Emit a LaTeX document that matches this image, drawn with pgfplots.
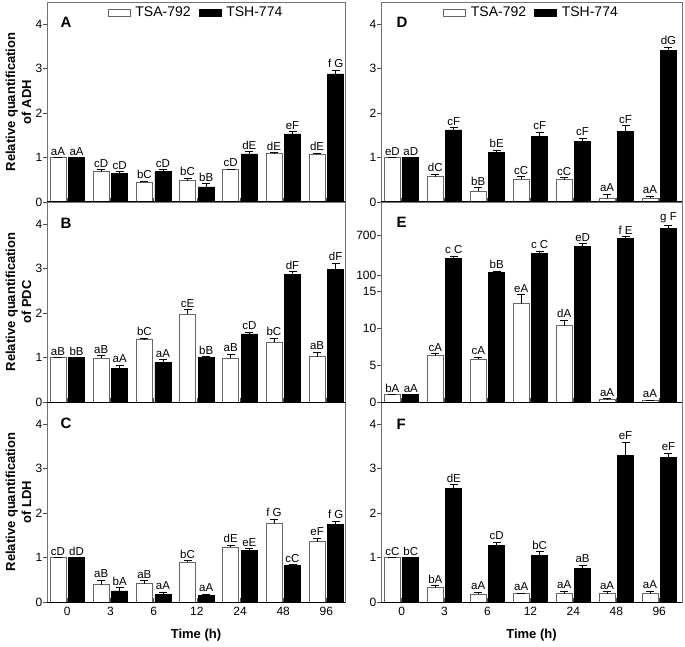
\documentclass[border=0pt]{standalone}
\usepackage{fontspec}
\setmainfont{Liberation Sans}
\usepackage{pgfplots}
\usepackage{pgfplotstable}
\pgfplotsset{compat=1.18}

% columns: group, TSA-792 mean/err/letters, TSH-774 mean/err/letters
\pgfplotstableread{
x wy we wl by be bl
0 1.00 0.00 aA 1.00 0.00 aA
1 0.68 0.05 cD 0.64 0.04 cD
2 0.45 0.02 bC 0.68 0.05 cD
3 0.48 0.06 bC 0.34 0.07 bB
4 0.73 0.01 cD 1.08 0.05 dE
5 1.09 0.02 dE 1.53 0.05 eF
6 1.08 0.02 dE 2.88 0.08 {f G}
}\tabA
\pgfplotstableread{
x wy we wl by be bl
0 1.00 0.00 aB 1.00 0.00 bB
1 0.99 0.05 aB 0.76 0.07 aA
2 1.40 0.03 bC 0.89 0.06 aA
3 1.98 0.10 cE 1.00 0.02 bB
4 0.99 0.08 aB 1.53 0.04 cD
5 1.34 0.10 bC 2.87 0.06 dF
6 1.02 0.10 aB 2.99 0.13 dF
}\tabB
\pgfplotstableread{
x wy we wl by be bl
0 1.00 0.00 cD 1.00 0.00 dD
1 0.39 0.10 aB 0.25 0.07 bA
2 0.41 0.07 aB 0.17 0.05 aA
3 0.89 0.04 bC 0.14 0.04 aA
4 1.23 0.05 dE 1.16 0.04 eE
5 1.78 0.08 {f G} 0.82 0.02 cC
6 1.36 0.07 eF 1.75 0.07 {f G}
}\tabC
\pgfplotstableread{
x wy we wl by be bl
0 1.00 0.00 eD 1.00 0.00 aD
1 0.57 0.05 dC 1.62 0.05 cF
2 0.24 0.08 bB 1.12 0.04 bE
3 0.51 0.06 cC 1.47 0.10 cF
4 0.50 0.05 cC 1.36 0.08 cF
5 0.08 0.10 aA 1.59 0.13 cF
6 0.09 0.04 aA 3.41 0.08 dG
}\tabD
\pgfplotstableread{
x wy we wl
0 1.00 0.00 bA
1 6.29 0.27 cA
2 5.79 0.27 cA
3 13.34 1.20 eA
4 10.33 0.76 dA
5 0.31 0.12 aA
6 0.18 0.10 aA
}\tabEw
\pgfplotstableread{
x by be bl
0 1.00 0.00 aA
1 352 35 {c C}
2 136 20 bB
3 428 35 {c C}
4 538 40 eD
5 654 30 {f E}
6 805 50 {g F}
}\tabEb
\pgfplotstableread{
x wy we wl by be bl
0 1.00 0.00 cC 1.00 0.00 bC
1 0.32 0.05 bA 2.56 0.08 dE
2 0.17 0.05 aA 1.28 0.06 cD
3 0.19 0.01 aA 1.04 0.09 bC
4 0.19 0.05 aA 0.75 0.08 aB
5 0.19 0.04 aA 3.29 0.30 eF
6 0.19 0.06 aA 3.25 0.10 eF
}\tabF

\colorlet{frame}{black!55}
\tikzset{letter/.style={anchor=west, font=\bfseries\fontsize{15}{15}\selectfont}}

% white bars sit left of the group centre, black bars right of it
\newcommand{\wx}{\thisrow{x}-0.215}
\newcommand{\bx}{\thisrow{x}+0.215}

\pgfplotsset{
  panel/.style={
    scale only axis, width=298pt, height=200pt,
    xmin=-0.47, xmax=6.43, ymin=0, ymax=4.5,
    xtick={0,...,6}, xticklabels={}, ytick={0,1,2,3,4},
    tick pos=left, xtick align=inside, ytick align=outside,
    major tick length=4pt,
    axis line style={frame, line width=0.7pt},
    tick style={black!70, line width=0.7pt},
    tick label style={font=\fontsize{12}{12}\selectfont},
    /pgf/number format/assume math mode=true,
    yticklabel style={inner sep=0.5pt},
    xticklabel style={yshift=-2pt},
    every axis y label/.style={at={(axis description cs:-0.0956,0.5)}, anchor=center,
      rotate=90, align=center, font=\bfseries\fontsize{13}{16}\selectfont},
    every axis x label/.style={at={(axis description cs:0.5,-0.165)}, anchor=center,
      font=\bfseries\fontsize{13}{13}\selectfont},
    after end axis/.append code={\draw[black, line width=1pt] (rel axis cs:0,0) -- (rel axis cs:1,0);},
  },
  rightcol/.style={width=301pt, xmin=-0.48, xmax=6.53},
  errs/.style={error bars/y dir=plus, error bars/y explicit,
    error bars/error bar style={black, line width=0.7pt},
    error bars/error mark options={rotate=90, black, mark size=4pt, line width=0.7pt}},
  labs/.style={nodes near coords, point meta=explicit symbolic,
    every node near coord/.append style={anchor=south, inner sep=1pt, yshift=1pt, black,
      font=\fontsize{11.5}{12}\selectfont, shift={(axis direction cs:0,\err)}}},
  wbar/.style={ybar, bar width=16pt, bar shift=0pt, fill=white, draw=black!60, line width=0.7pt,
    legend image code/.code={\draw[##1] (0pt,-3.5pt) rectangle (22pt,3.5pt);}},
  bbar/.style={ybar, bar width=16pt, bar shift=0pt, fill=black, draw=black, line width=0.7pt,
    legend image code/.code={\draw[##1] (0pt,-3.5pt) rectangle (22pt,3.5pt);}},
  wser/.style={wbar, labs, visualization depends on={\thisrow{we}\as\err}, errs},
  bser/.style={bbar, labs, visualization depends on={\thisrow{be}\as\err}, errs},
  leg/.style={legend columns=2, legend cell align=left,
    legend style={at={(0.5,0.995)}, anchor=north, draw=none, fill=none,
      font=\fontsize{14}{14}\selectfont,
      /tikz/every odd column/.append style={column sep=3pt},
      /tikz/every even column/.append style={column sep=6pt}}},
}

\begin{document}
\begin{tikzpicture}
\useasboundingbox (0pt,0pt) rectangle (685pt,646pt);

% ---------------- left column (drawn bottom to top) ----------------
\begin{axis}[panel, at={(47pt,44pt)}, anchor=south west,
  xticklabels={0,3,6,12,24,48,96}, xlabel={Time (h)},
  ylabel={Relative quantification\\of LDH}]
\addplot[wser] table[x expr=\wx, y=wy, y error=we, meta=wl]{\tabC};
\addplot[bser] table[x expr=\bx, y=by, y error=be, meta=bl]{\tabC};
\node[letter] at (rel axis cs:0.034,0.895) {C};
\end{axis}

\begin{axis}[panel, at={(47pt,244pt)}, anchor=south west,
  ylabel={Relative quantification\\of PDC}]
\addplot[wser] table[x expr=\wx, y=wy, y error=we, meta=wl]{\tabB};
\addplot[bser] table[x expr=\bx, y=by, y error=be, meta=bl]{\tabB};
\node[letter] at (rel axis cs:0.034,0.895) {B};
\end{axis}

\begin{axis}[panel, leg, at={(47pt,444pt)}, anchor=south west,
  ylabel={Relative quantification\\of ADH}]
\addplot[wser] table[x expr=\wx, y=wy, y error=we, meta=wl]{\tabA};
\addlegendentry{TSA-792}
\addplot[bser] table[x expr=\bx, y=by, y error=be, meta=bl]{\tabA};
\addlegendentry{TSH-774}
\node[letter] at (rel axis cs:0.034,0.9) {A};
\end{axis}

% ---------------- right column ----------------
\begin{axis}[panel, rightcol, at={(381pt,44pt)}, anchor=south west,
  xticklabels={0,3,6,12,24,48,96}, xlabel={Time (h)}]
\addplot[wser] table[x expr=\wx, y=wy, y error=we, meta=wl]{\tabF};
\addplot[bser] table[x expr=\bx, y=by, y error=be, meta=bl]{\tabF};
\node[letter] at (rel axis cs:0.04,0.89) {F};
\end{axis}

% E, lower segment 0-16
\begin{axis}[panel, rightcol, at={(381pt,244pt)}, anchor=south west,
  height=120.3pt, ymax=16.3, ytick={0,5,10,15},
  separate axis lines, x axis line style={draw=none}]
\addplot[wser] table[x expr=\wx, y=wy, y error=we, meta=wl]{\tabEw};
\addplot[bser, restrict x to domain=-0.5:0.5] table[x expr=\bx, y=by, y error=be, meta=bl]{\tabEb};
\addplot[bbar, restrict x to domain=0.5:6.5] table[x expr=\bx, y=by]{\tabEb};
\end{axis}

% E, upper segment
\begin{axis}[panel, rightcol, at={(381pt,364.3pt)}, anchor=south west,
  height=79.7pt, ymin=0, ymax=1210, ytick={100,700}, xtick=\empty,
  separate axis lines, x axis line style={draw=none}, after end axis/.code={}]
\addplot[bser, restrict x to domain=0.5:6.5] table[x expr=\bx, y=by, y error=be, meta=bl]{\tabEb};
\node[letter] at (rel axis cs:0.04,0.75) {E};
\end{axis}

\begin{axis}[panel, rightcol, leg, at={(381pt,444pt)}, anchor=south west]
\addplot[wser] table[x expr=\wx, y=wy, y error=we, meta=wl]{\tabD};
\addlegendentry{TSA-792}
\addplot[bser] table[x expr=\bx, y=by, y error=be, meta=bl]{\tabD};
\addlegendentry{TSH-774}
\node[letter] at (rel axis cs:0.04,0.9) {D};
\end{axis}
\end{tikzpicture}
\end{document}
